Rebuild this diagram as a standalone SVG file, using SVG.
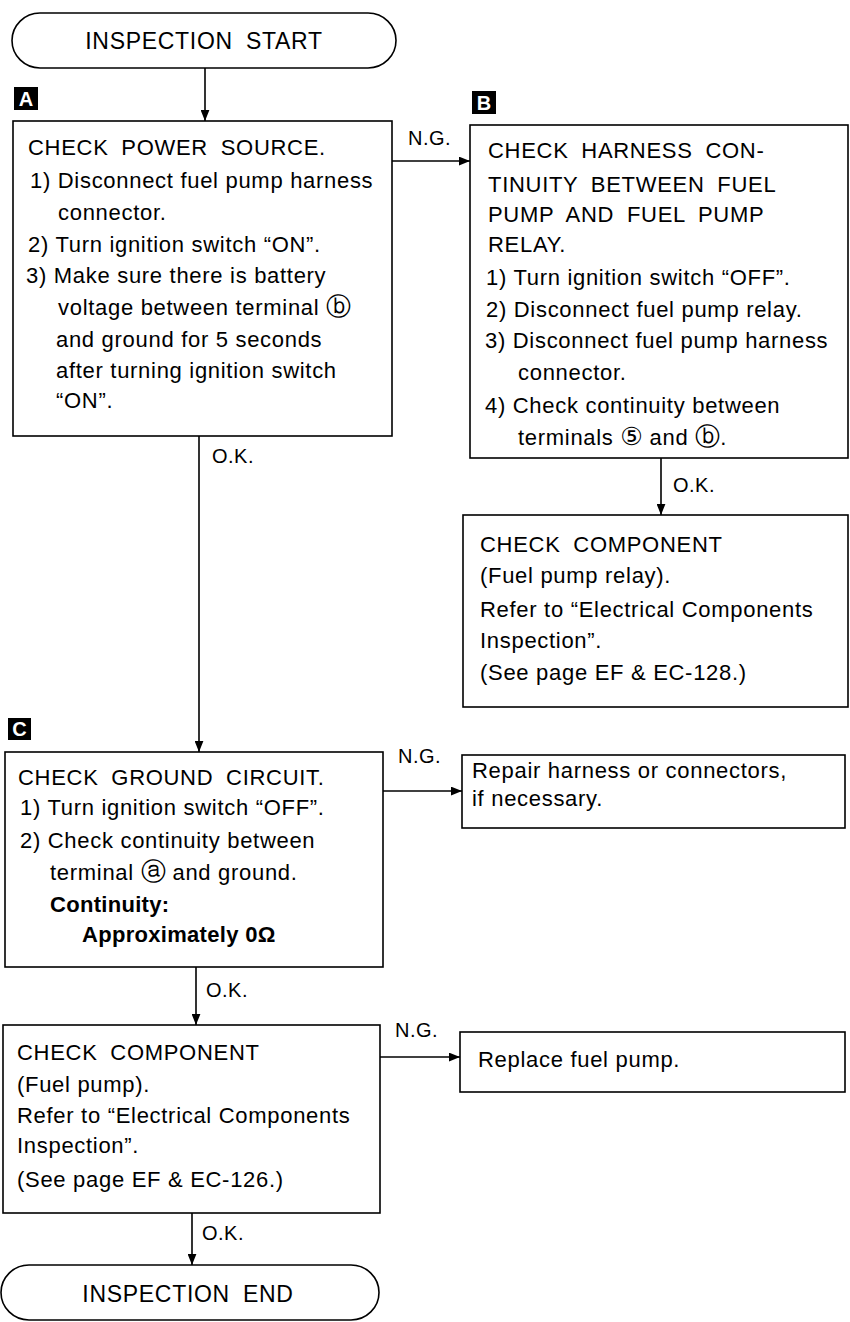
<svg xmlns="http://www.w3.org/2000/svg" width="850" height="1322" viewBox="0 0 850 1322">
<defs>
<marker id="arr" viewBox="0 0 10 8" refX="10" refY="4" markerWidth="11" markerHeight="9" markerUnits="userSpaceOnUse" orient="auto"><path d="M0,0 L10,4 L0,8 z" fill="#000"/></marker>
<style>
.box{fill:#fff;stroke:#000;stroke-width:1.6}
.t{font-family:"Liberation Sans",Arial,"DejaVu Sans",sans-serif;font-size:22px;letter-spacing:0.7px;fill:#000}
.h{word-spacing:6px}
.b{font-weight:bold;letter-spacing:0.3px}
.ci{font-family:"DejaVu Sans",sans-serif;font-size:25px;letter-spacing:0}
.lbl{font-family:"Liberation Sans",Arial,sans-serif;font-size:20px;font-weight:bold;fill:#fff;text-anchor:middle}
.c{fill:none;stroke:#000;stroke-width:1.6;marker-end:url(#arr)}
.cl{font-family:"Liberation Sans",Arial,sans-serif;font-size:20px;fill:#000;letter-spacing:0.5px}
</style>
</defs>
<rect width="850" height="1322" fill="#fff"/>

<g id="start">
<rect class="box" x="12" y="13" width="384" height="55" rx="28" ry="28"/>
<text class="t h" x="204" y="49" text-anchor="middle" style="font-size:23px">INSPECTION START</text>
</g>

<g id="labelA"><rect x="14" y="87" width="24" height="23" fill="#000"/><text class="lbl" x="26" y="106">A</text></g>
<g id="labelB"><rect x="472" y="91" width="24" height="23" fill="#000"/><text class="lbl" x="484" y="110">B</text></g>
<g id="labelC"><rect x="8" y="718" width="23" height="22" fill="#000"/><text class="lbl" x="19.5" y="736">C</text></g>

<g id="nodeA">
<rect class="box" x="13" y="121" width="379" height="315"/>
<text class="t h" x="28" y="155">CHECK POWER SOURCE.</text>
<text class="t" x="30" y="188">1) Disconnect fuel pump harness</text>
<text class="t" x="58" y="220">connector.</text>
<text class="t" x="28" y="252">2) Turn ignition switch “ON”.</text>
<text class="t" x="26" y="283">3) Make sure there is battery</text>
<text class="t" x="58" y="315">voltage between terminal <tspan class="ci">ⓑ</tspan></text>
<text class="t" x="56" y="347">and ground for 5 seconds</text>
<text class="t" x="56" y="378">after turning ignition switch</text>
<text class="t" x="56" y="408">“ON”.</text>
</g>

<g id="nodeB">
<rect class="box" x="470" y="125" width="378" height="333"/>
<text class="t h" x="488" y="158">CHECK HARNESS CON-</text>
<text class="t h" x="488" y="192">TINUITY BETWEEN FUEL</text>
<text class="t h" x="488" y="222">PUMP AND FUEL PUMP</text>
<text class="t h" x="488" y="252">RELAY.</text>
<text class="t" x="486" y="285">1) Turn ignition switch “OFF”.</text>
<text class="t" x="486" y="317">2) Disconnect fuel pump relay.</text>
<text class="t" x="485" y="348">3) Disconnect fuel pump harness</text>
<text class="t" x="518" y="380">connector.</text>
<text class="t" x="485" y="413">4) Check continuity between</text>
<text class="t" x="518" y="445">terminals <tspan class="ci">⑤</tspan> and <tspan class="ci">ⓑ</tspan>.</text>
</g>

<g id="nodeRelay">
<rect class="box" x="463" y="515" width="385" height="192"/>
<text class="t h" x="480" y="552">CHECK COMPONENT</text>
<text class="t" x="480" y="583">(Fuel pump relay).</text>
<text class="t" x="480" y="617">Refer to “Electrical Components</text>
<text class="t" x="480" y="648">Inspection”.</text>
<text class="t" x="480" y="680">(See page EF &amp; EC-128.)</text>
</g>

<g id="nodeC">
<rect class="box" x="5" y="752" width="378" height="215"/>
<text class="t h" x="18" y="785">CHECK GROUND CIRCUIT.</text>
<text class="t" x="20" y="815">1) Turn ignition switch “OFF”.</text>
<text class="t" x="20" y="848">2) Check continuity between</text>
<text class="t" x="50" y="880">terminal <tspan class="ci">ⓐ</tspan> and ground.</text>
<text class="t b" x="50" y="912">Continuity:</text>
<text class="t b" x="82" y="942">Approximately 0Ω</text>
</g>

<g id="nodeRepair">
<rect class="box" x="462" y="755" width="383" height="73"/>
<text class="t" x="472" y="778">Repair harness or connectors,</text>
<text class="t" x="472" y="806">if necessary.</text>
</g>

<g id="nodeComp">
<rect class="box" x="3" y="1025" width="377" height="188"/>
<text class="t h" x="17" y="1060">CHECK COMPONENT</text>
<text class="t" x="17" y="1092">(Fuel pump).</text>
<text class="t" x="17" y="1123">Refer to “Electrical Components</text>
<text class="t" x="17" y="1153">Inspection”.</text>
<text class="t" x="17" y="1187">(See page EF &amp; EC-126.)</text>
</g>

<g id="nodeReplace">
<rect class="box" x="460" y="1032" width="385" height="60"/>
<text class="t" x="478" y="1067">Replace fuel pump.</text>
</g>

<g id="end">
<rect class="box" x="1" y="1265" width="378" height="55" rx="28" ry="28"/>
<text class="t h" x="188" y="1302" text-anchor="middle" style="font-size:23px">INSPECTION END</text>
</g>

<g id="connectors">
<line class="c" x1="205" y1="68" x2="205" y2="121"/>
<line class="c" x1="392" y1="161" x2="470" y2="161"/>
<text class="cl" x="408" y="145">N.G.</text>
<line class="c" x1="661" y1="458" x2="661" y2="515"/>
<text class="cl" x="673" y="492">O.K.</text>
<line class="c" x1="199" y1="436" x2="199" y2="752"/>
<text class="cl" x="212" y="463">O.K.</text>
<line class="c" x1="383" y1="791" x2="462" y2="791"/>
<text class="cl" x="398" y="763">N.G.</text>
<line class="c" x1="196" y1="967" x2="196" y2="1025"/>
<text class="cl" x="206" y="997">O.K.</text>
<line class="c" x1="380" y1="1057" x2="460" y2="1057"/>
<text class="cl" x="395" y="1037">N.G.</text>
<line class="c" x1="192" y1="1213" x2="192" y2="1265"/>
<text class="cl" x="202" y="1240">O.K.</text>
</g>
</svg>
